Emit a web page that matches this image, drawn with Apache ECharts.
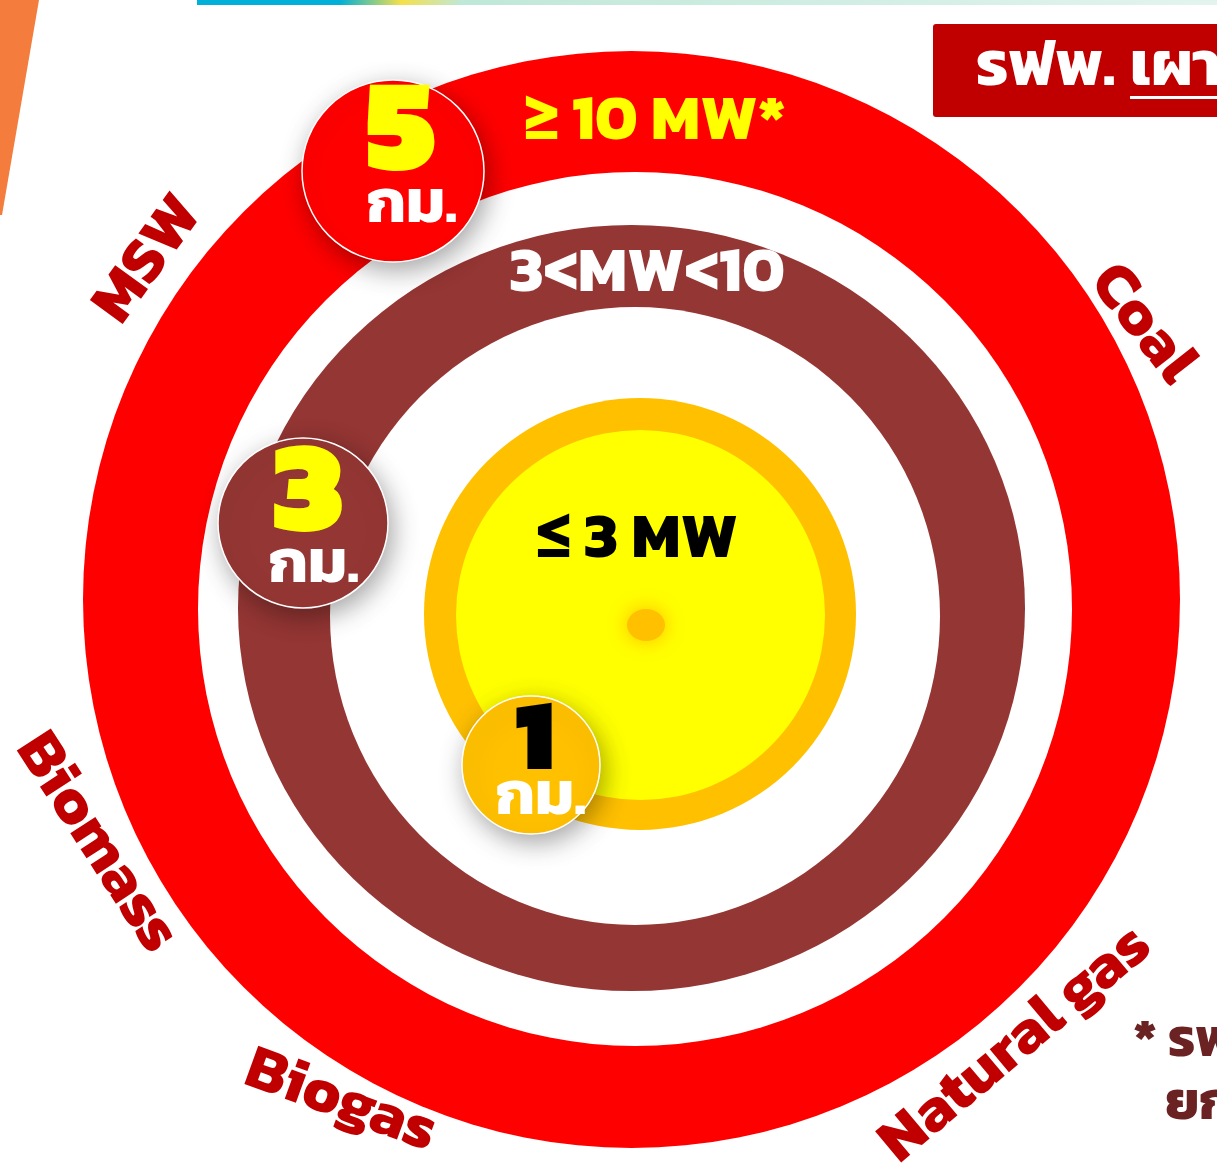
<!DOCTYPE html>
<html>
<head>
<meta charset="utf-8">
<script src="https://cdn.jsdelivr.net/npm/echarts@6/dist/echarts.min.js"></script>
<style>
  html, body { margin: 0; padding: 0; background: #fff; }
  #chart { width: 1217px; height: 1168px; }
</style>
</head>
<body>
<div id="chart"></div>
<script>
// data
const zoneLabels = ['≥ 10 MW*', '3<MW<10', '≤ 3 MW']
const distancesKm = [5, 3, 1]
const unitLabel = 'กม.'
const fuelTypes = ['MSW', 'Coal', 'Natural gas', 'Biogas', 'Biomass']
const headerText = ['รฟพ.', 'เผา']
const noteLines = ['* รฟพ', 'ยก']

// layout (pixels): each zone is an outer coloured disc with a white gap disc inside
const discs = [
  { c: [631.5, 599.5], size: [1097, 1097], color: '#ff0000' },
  { c: [635, 609], size: [874, 874], color: '#ffffff' },
  { c: [631.5, 608], size: [787, 766], color: '#943634' },
  { c: [635, 616], size: [610, 618], color: '#ffffff' },
  { c: [640, 614], size: [432, 432], color: '#ffc000' },
  { c: [640.5, 615], size: [369, 370], color: '#ffff00' }
]
// off: label offset, ln / lu: line heights of number / unit, pad: unit shift
const badges = [
  { x: 393, y: 171, r: 91, color: '#ff0000', num: '#ffff00', numSize: 132, off: [8, -4], ln: 80, lu: 56, pad: 22 },
  { x: 303, y: 523, r: 85, color: '#943634', num: '#ffff00', numSize: 130, off: [5, 4], ln: 80, lu: 54, pad: 12 },
  { x: 531, y: 765, r: 69, color: '#ffc000', num: '#000000', numSize: 100, off: [4, 4], ln: 60, lu: 48, pad: 12 }
]
const zoneText = [
  { x: 655, y: 124, color: '#ffff00' },
  { x: 647, y: 276, color: '#ffffff' },
  { x: 637, y: 542, color: '#000000' }
]
const fuelPos = [
  { x: 150, y: 261, rot: 54 },
  { x: 1141, y: 325, rot: -52 },
  { x: 1017, y: 1046, rot: 40 },
  { x: 340, y: 1103, rot: -20 },
  { x: 95, y: 844, rot: -57 }
]
const FONT = "Kanit, 'Noto Sans Thai', 'Noto Sans', 'DejaVu Sans', sans-serif"

const chart = echarts.init(document.getElementById('chart'))

const discSeries = {
  type: 'scatter',
  silent: true,
  animation: false,
  z: 2,
  data: discs.map(d => ({
    value: d.c,
    symbol: 'circle',
    symbolSize: d.size,
    itemStyle: { color: d.color, opacity: 1 }
  }))
}

const badgeSeries = {
  type: 'scatter',
  silent: true,
  animation: false,
  z: 5,
  data: distancesKm.map((d, i) => {
    const b = badges[i]
    return {
      value: [b.x, b.y],
      symbolSize: b.r * 2,
      itemStyle: {
        color: b.color,
        opacity: 1,
        borderColor: '#ffffff',
        borderWidth: 1.5,
        shadowBlur: 26,
        shadowColor: 'rgba(0,0,0,0.35)',
        shadowOffsetX: 4,
        shadowOffsetY: 8
      },
      label: {
        show: true,
        position: 'inside',
        offset: b.off,
        formatter: `{n|${d}}\n{u|${unitLabel}}`,
        rich: {
          n: { fontFamily: FONT, fontWeight: 900, fontSize: b.numSize, lineHeight: b.ln, color: b.num, align: 'center' },
          u: { fontFamily: FONT, fontWeight: 'bold', fontSize: 62, lineHeight: b.lu, color: '#ffffff', align: 'center', padding: [0, 0, 0, b.pad] }
        }
      }
    }
  })
}

const dotSeries = {
  type: 'scatter',
  silent: true,
  animation: false,
  z: 4,
  symbolSize: [38, 32],
  itemStyle: { color: '#ffc000', opacity: 1, shadowBlur: 20, shadowColor: 'rgba(255,170,0,0.8)' },
  data: [[646, 625]]
}

const graphics = []
// top strip and left accent
graphics.push({
  type: 'rect', z: 50,
  shape: { x: 197, y: 0, width: 1020, height: 5 },
  style: {
    fill: new echarts.graphic.LinearGradient(0, 0, 1, 0, [
      { offset: 0, color: '#00b0d8' },
      { offset: 0.14, color: '#00b0d8' },
      { offset: 0.2, color: '#f5e04a' },
      { offset: 0.26, color: '#bfe8d8' },
      { offset: 1, color: '#e3f4ef' }
    ])
  }
})
graphics.push({
  type: 'polygon', z: 50,
  shape: { points: [[0, 0], [39, 0], [2, 215], [0, 215]] },
  style: { fill: '#f47c3c' }
})
// header box
graphics.push({
  type: 'rect', z: 50,
  shape: { x: 933, y: 24, width: 300, height: 93, r: 3 },
  style: { fill: '#c00000' }
})
graphics.push({
  type: 'text', z: 51, x: 976, y: 70,
  style: { text: headerText[0], fill: '#ffffff', font: `bold 64px ${FONT}`, verticalAlign: 'middle' }
})
graphics.push({
  type: 'text', z: 51, x: 1130, y: 70,
  style: { text: headerText[1], fill: '#ffffff', font: `bold 64px ${FONT}`, verticalAlign: 'middle' }
})
graphics.push({
  type: 'rect', z: 51,
  shape: { x: 1130, y: 96, width: 90, height: 3 },
  style: { fill: '#ffffff' }
})
// zone labels
zoneLabels.forEach((t, i) => {
  const p = zoneText[i]
  graphics.push({
    type: 'text', z: 60, x: p.x, y: p.y,
    style: { text: t, fill: p.color, font: `bold 64px ${FONT}`, align: 'center', verticalAlign: 'middle' }
  })
})
// fuel labels
fuelTypes.forEach((t, i) => {
  const p = fuelPos[i]
  graphics.push({
    type: 'text', z: 60, x: p.x, y: p.y, rotation: p.rot * Math.PI / 180,
    style: { text: t, fill: '#c00000', font: `bold 63px ${FONT}`, align: 'center', verticalAlign: 'middle' }
  })
})
// footnote
noteLines.forEach((t, i) => {
  graphics.push({
    type: 'text', z: 60, x: i === 0 ? 1133 : 1165, y: i === 0 ? 1043 : 1106,
    style: {
      text: t, fill: '#6b2222', font: `bold 54px ${FONT}`, verticalAlign: 'middle',
      shadowBlur: 4, shadowColor: 'rgba(0,0,0,0.35)', shadowOffsetX: 2, shadowOffsetY: 2
    }
  })
})

chart.setOption({
  animation: false,
  backgroundColor: '#ffffff',
  grid: { left: 0, right: 0, top: 0, bottom: 0 },
  xAxis: { type: 'value', min: 0, max: 1217, show: false },
  yAxis: { type: 'value', min: 0, max: 1168, inverse: true, show: false },
  graphic: graphics,
  series: [discSeries, dotSeries, badgeSeries]
})
</script>
</body>
</html>
